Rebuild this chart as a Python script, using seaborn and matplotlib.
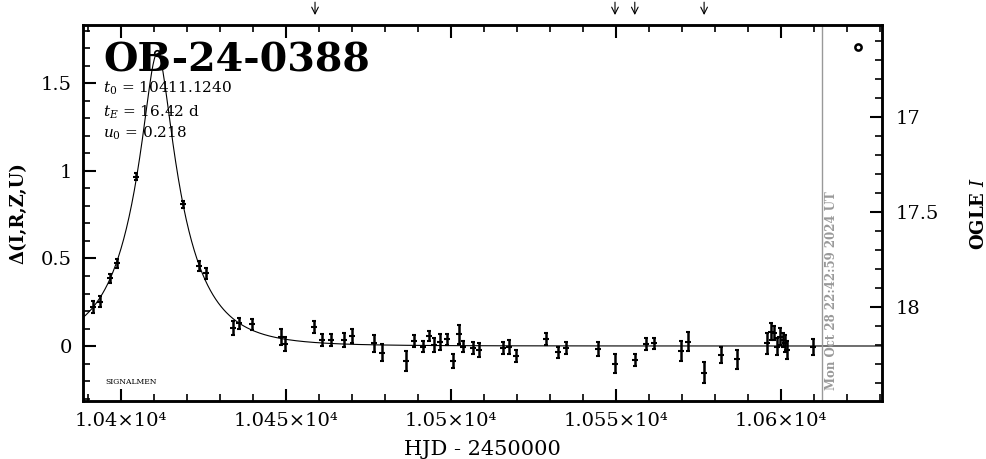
import numpy as np
import matplotlib
matplotlib.use("Agg")
import matplotlib.pyplot as plt
from matplotlib.ticker import MultipleLocator
import seaborn as sns
import pandas as pd

# photometry, HJD - 2450000 / delta mag / error
hjd = [10391.7, 10393.7, 10396.8, 10398.8, 10404.8, 10418.8, 10423.8, 10425.8,
       10433.9, 10435.9, 10439.9, 10448.7, 10449.8, 10458.7, 10460.9, 10463.6,
       10467.8, 10470.0, 10476.8, 10479.1, 10486.6, 10488.8, 10491.7, 10493.5,
       10495.0, 10496.8, 10498.8, 10500.6, 10502.6, 10503.8, 10506.7, 10508.6,
       10515.8, 10517.8, 10519.8, 10528.8, 10532.6, 10534.9, 10544.7, 10549.8,
       10555.8, 10559.1, 10561.6, 10569.7, 10571.8, 10576.8, 10581.8, 10586.8,
       10595.8, 10597.0, 10598.0, 10599.0, 10599.8, 10600.6, 10601.3, 10602.0,
       10609.9]
delta = [0.225, 0.253, 0.387, 0.472, 0.967, 0.810, 0.457, 0.415,
         0.101, 0.130, 0.124, 0.053, 0.010, 0.107, 0.034, 0.034,
         0.034, 0.057, 0.015, -0.038, -0.086, 0.029, -0.004, 0.057,
         0.006, 0.021, 0.038, -0.086, 0.067, -0.004, -0.013, -0.023,
         -0.010, -0.004, -0.057, 0.038, -0.036, -0.010, -0.019, -0.100,
         -0.080, 0.010, 0.015, -0.029, 0.025, -0.152, -0.051, -0.076,
         0.015, 0.082, 0.073, -0.004, 0.053, 0.034, 0.015, -0.023,
         -0.004]
err = [0.034, 0.030, 0.025, 0.025, 0.020, 0.020, 0.030, 0.030,
       0.040, 0.030, 0.030, 0.045, 0.040, 0.035, 0.035, 0.035,
       0.040, 0.040, 0.050, 0.050, 0.055, 0.035, 0.030, 0.030,
       0.040, 0.045, 0.030, 0.040, 0.055, 0.030, 0.035, 0.040,
       0.035, 0.040, 0.035, 0.035, 0.030, 0.035, 0.040, 0.053,
       0.035, 0.035, 0.030, 0.055, 0.055, 0.060, 0.045, 0.055,
       0.060, 0.050, 0.040, 0.050, 0.050, 0.040, 0.050, 0.050,
       0.045]

# fit parameters printed on the plot
t0 = 10411.1240
tE = 16.42
u0 = 0.218

arrow_hjd = [10458.9, 10549.8, 10555.8, 10576.8]
now_hjd = 10612.45
now_label = "Mon Oct 28 22:42:59 2024 UT"
xticks = [10400, 10450, 10500, 10550, 10600]
xticklabels = ["1.04×10⁴", "1.045×10⁴", "1.05×10⁴", "1.055×10⁴", "1.06×10⁴"]
yticks = [0, 0.5, 1, 1.5]
yticklabels = ["0", "0.5", "1", "1.5"]
mag_ticks = [17, 17.5, 18]
mag_ticklabels = ["17", "17.5", "18"]

df = pd.DataFrame({"hjd": hjd, "delta": delta, "err": err})

# point-lens (Paczynski) model from the printed parameters
t = np.linspace(10388.6, 10630.7, 1200)
u = np.sqrt(u0**2 + ((t - t0) / tE) ** 2)
A = (u**2 + 2) / (u * np.sqrt(u**2 + 4))
model = pd.DataFrame({"hjd": t, "delta": 2.5 * np.log10(A)})
peak = 2.5 * np.log10((u0**2 + 2) / (u0 * np.sqrt(u0**2 + 4)))

sns.set_theme(style="ticks")
plt.rcParams["font.family"] = ["DejaVu Serif"]
plt.rcParams["mathtext.fontset"] = "dejavuserif"
for k in ["text.color", "axes.labelcolor", "xtick.color", "ytick.color",
          "axes.edgecolor"]:
    plt.rcParams[k] = "black"
plt.rcParams["axes.linewidth"] = 1.8

ylo, yhi = -0.314, 1.834
fig = plt.figure(figsize=(9.86, 4.59), dpi=100)
ax = fig.add_axes([0.0842, 0.1264, 0.8103, 0.8192])

sns.lineplot(data=model, x="hjd", y="delta", color="black", lw=0.8, ax=ax)
ax.errorbar(df["hjd"], df["delta"], yerr=df["err"], fmt="none", ecolor="black",
            elinewidth=1.8, capsize=1.5, capthick=1.5)
sns.scatterplot(data=df, x="hjd", y="delta", marker="_", s=20, color="black",
                linewidth=1.5, ax=ax)
ax.plot([t0], [peak], marker="o", ms=4, mfc="white", mec="black", mew=1.2)
ax.plot([10623.4], [1.709], marker="o", ms=4.5, mfc="white", mec="black", mew=1.8)

ax.set_xlim(10388.6, 10630.7)
ax.set_ylim(ylo, yhi)
ax.axvline(now_hjd, color="#999999", lw=1)
ax.text(now_hjd + 3.0, -0.252, now_label, rotation=90, ha="center", va="bottom",
        color="#999999", fontsize=8.5, fontweight="bold")

ax.set_xticks(xticks)
ax.set_xticklabels(xticklabels, fontsize=14)
ax.xaxis.set_minor_locator(MultipleLocator(10))
ax.set_yticks(yticks)
ax.set_yticklabels(yticklabels, fontsize=14)
ax.yaxis.set_minor_locator(MultipleLocator(0.1))
ax.tick_params(which="major", direction="in", length=9, width=1.5, top=True,
               right=False, pad=8)
ax.tick_params(which="minor", direction="in", length=5, width=1.2, top=True,
               right=False)
ax.set_xlabel("HJD - 2450000", fontsize=15, labelpad=7)
ax.set_ylabel("Δ(I,R,Z,U)", fontsize=13, fontweight="bold", labelpad=10)

# right axis: OGLE I magnitude, linear in delta
I0, s = 18.207, 0.921
ax2 = ax.twinx()
ax2.set_ylim(I0 - s * ylo, I0 - s * yhi)
ax2.set_yticks(mag_ticks)
ax2.set_yticklabels(mag_ticklabels, fontsize=14)
ax2.yaxis.set_minor_locator(MultipleLocator(0.1))
ax2.tick_params(which="major", direction="in", length=9, width=1.5, pad=10)
ax2.tick_params(which="minor", direction="in", length=5, width=1.2)
ax2.set_ylabel("OGLE $\\mathit{I}$", fontsize=13, fontweight="bold", labelpad=22)

ax.text(0.025, 0.955, "OB-24-0388", transform=ax.transAxes, fontsize=28.5,
        fontweight="bold", va="top", ha="left")
ax.text(0.025, 0.832, "$t_0$ = 10411.1240", transform=ax.transAxes, fontsize=11,
        va="center")
ax.text(0.025, 0.769, "$t_E$ = 16.42 d", transform=ax.transAxes, fontsize=11,
        va="center")
ax.text(0.025, 0.712, "$u_0$ = 0.218", transform=ax.transAxes, fontsize=11,
        va="center")
ax.text(0.0275, 0.045, "SIGNALMEN", transform=ax.transAxes, fontsize=5.5)

for x in arrow_hjd:
    ax.annotate("", xy=(x, 1.019), xycoords=("data", "axes fraction"),
                xytext=(x, 1.068), textcoords=("data", "axes fraction"),
                arrowprops=dict(arrowstyle="->", lw=0.8, color="black"))

fig.savefig("out.png", dpi=100)
